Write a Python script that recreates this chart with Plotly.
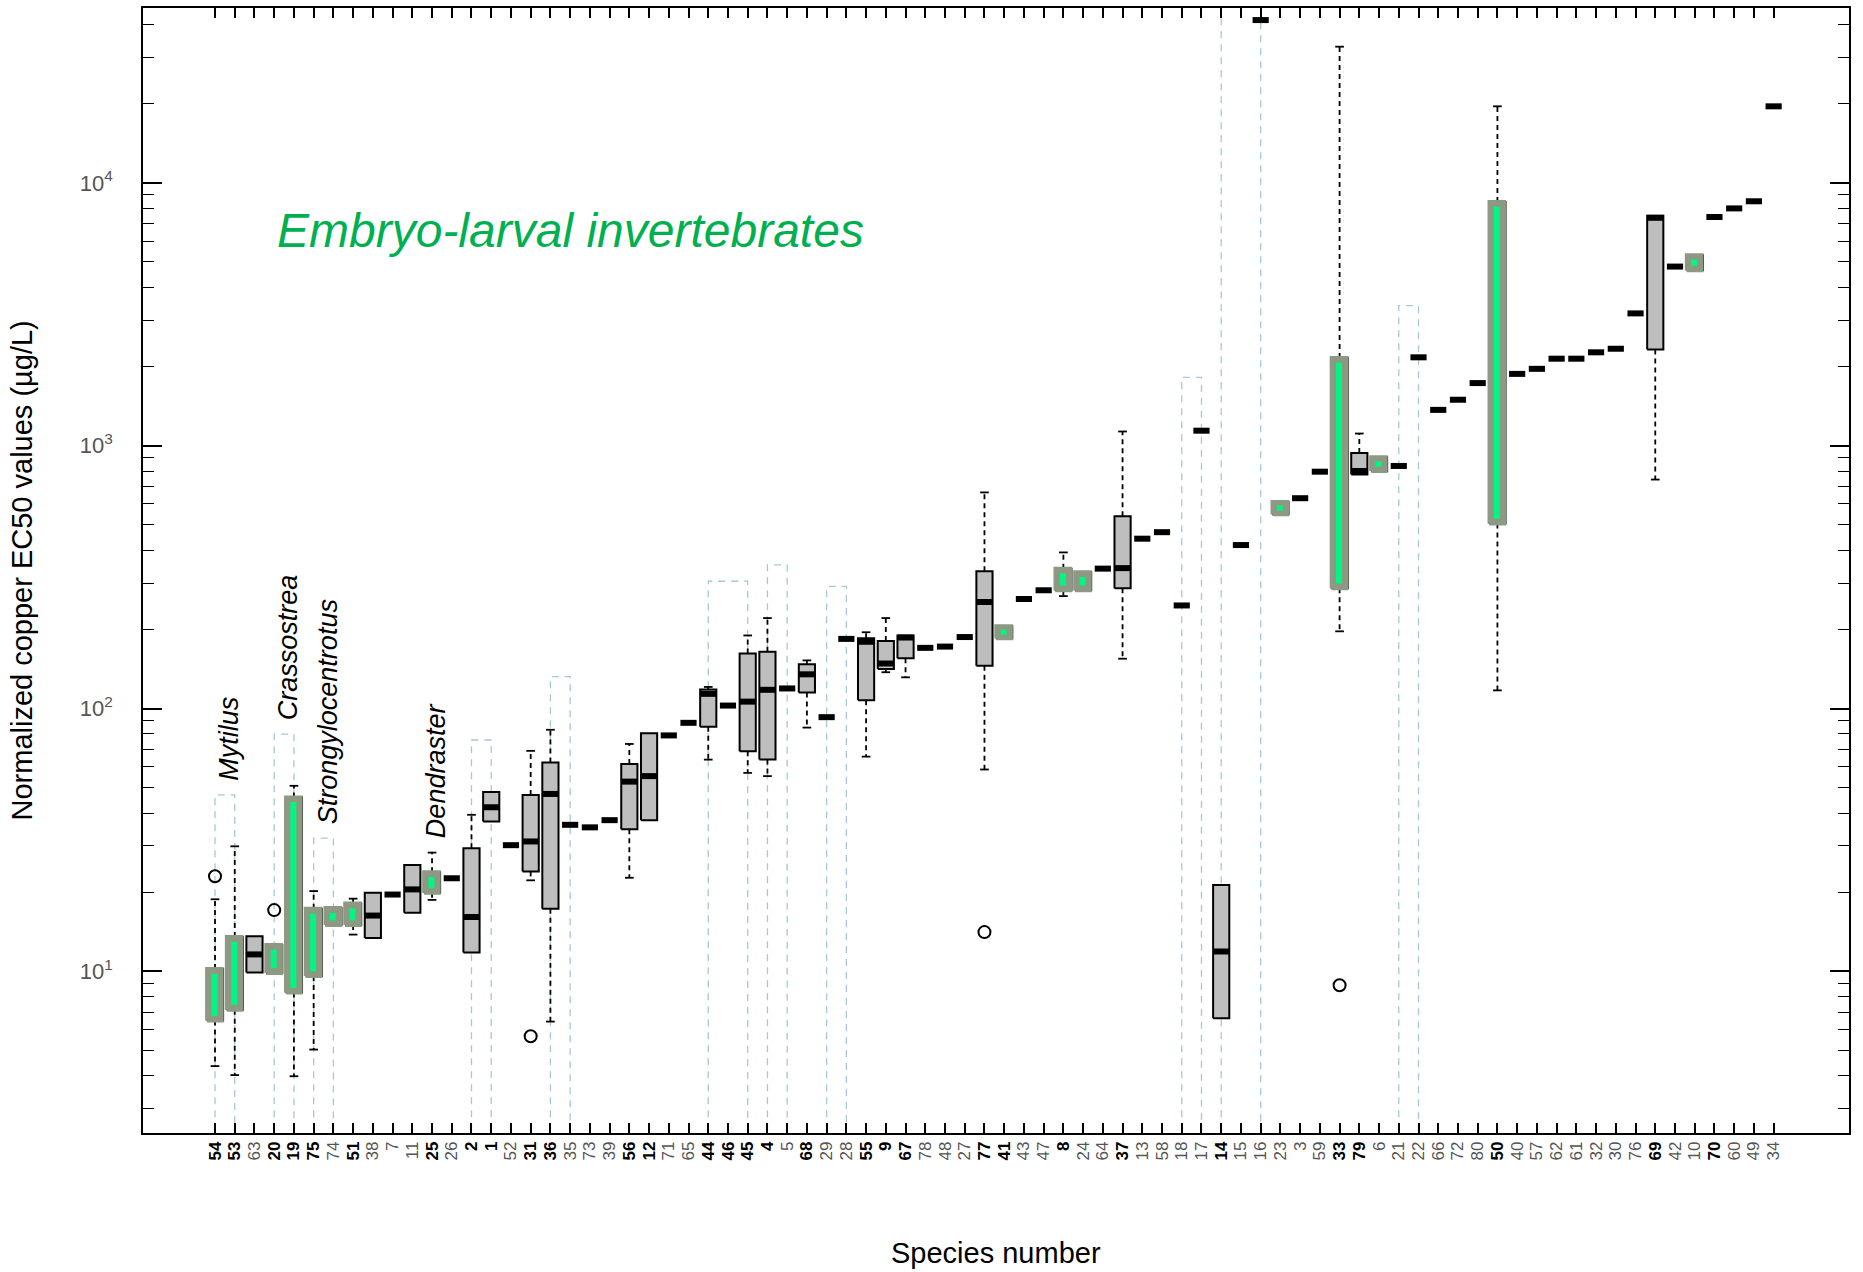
import math
import plotly.graph_objects as go

# Species in plotting order (left to right)
species = ["54", "53", "63", "20", "19", "75", "74", "51", "38", "7",
           "11", "25", "26", "2", "1", "52", "31", "36", "35", "73",
           "39", "56", "12", "71", "65", "44", "46", "45", "4", "5",
           "68", "29", "28", "55", "9", "67", "78", "48", "27", "77",
           "41", "43", "47", "8", "24", "64", "37", "13", "58", "18",
           "17", "14", "15", "16", "23", "3", "59", "33", "79", "6",
           "21", "22", "66", "72", "80", "50", "40", "57", "62", "61",
           "32", "30", "76", "69", "42", "10", "70", "60", "49", "34"]

# Species numbers printed in bold on the axis
bold_species = ["54", "53", "20", "19", "75", "51", "25", "2", "1", "31", "36",
                "56", "12", "44", "46", "45", "4", "68", "55", "9", "67", "77",
                "41", "8", "37", "14", "33", "79", "50", "69", "70"]

# Median normalized EC50 (ug/L) per species (single value where only one test)
median = [8.3, 10.0, 11.6, 11.0, 20.0, 13.0, 16.6, 16.4, 16.3, 19.6,
          20.5, 21.8, 22.6, 16.1, 42.1, 30.2, 31.2, 47.3, 36.1, 35.3,
          37.6, 52.7, 55.3, 79.0, 88.2, 113.7, 102.6, 106.2, 117.8, 119.2,
          134.9, 92.7, 184.0, 179.4, 148.3, 186.2, 170.1, 172.0, 187.0, 254.2,
          195.0, 261.0, 281.7, 309.6, 305.0, 340.5, 342.0, 442.6, 468.6, 246.6,
          1140.0, 11.9, 418.6, 41600.0, 577.5, 631.0, 796.0, 780.0, 801.0, 847.0,
          837.0, 2168.0, 1368.0, 1495.0, 1730.0, 1900.0, 1875.0, 1960.0, 2142.0, 2142.0,
          2265.0, 2337.0, 3185.0, 7360.0, 4800.0, 4955.0, 7410.0, 7990.0, 8505.0, 19540.0]

# Lower / upper quartiles for species with several values
q1 = {"54": 6.5, "53": 7.15, "63": 9.9, "20": 9.86, "19": 8.3, "75": 9.6,
      "74": 15.0, "51": 15.0, "38": 13.4, "11": 16.7, "25": 19.9, "2": 11.8,
      "1": 37.2, "31": 24.0, "36": 17.3, "56": 34.7, "12": 37.6, "44": 85.3,
      "45": 68.7, "4": 63.9, "68": 115.1, "55": 107.4, "9": 141.2, "67": 155.2,
      "77": 145.5, "41": 184.9, "8": 281.7, "24": 281.7, "37": 287.0,
      "14": 6.63, "23": 548.0, "33": 287.0, "79": 776.0, "6": 801.0,
      "50": 506.0, "69": 2323.0, "10": 4646.0}
q3 = {"54": 10.2, "53": 13.5, "63": 13.6, "20": 12.6, "19": 45.9, "75": 17.3,
      "74": 17.4, "51": 18.1, "38": 19.9, "11": 25.4, "25": 23.8, "2": 29.4,
      "1": 48.1, "31": 46.9, "36": 62.3, "56": 61.5, "12": 80.5, "44": 118.2,
      "45": 161.8, "4": 164.4, "68": 147.3, "55": 184.9, "9": 180.8, "67": 189.6,
      "77": 332.7, "41": 205.6, "8": 340.5, "24": 329.8, "37": 538.9,
      "14": 21.3, "23": 611.0, "33": 2156.0, "79": 937.6, "6": 903.0,
      "50": 8450.0, "69": 7485.0, "10": 5305.0}

# Whisker ends
whisker_low = {"54": 4.36, "53": 4.03, "19": 3.99, "75": 5.04, "51": 13.8,
               "25": 18.7, "31": 22.2, "36": 6.44, "56": 22.7, "44": 63.9,
               "45": 56.9, "4": 55.3, "68": 84.6, "55": 65.6, "9": 137.4,
               "67": 131.4, "77": 58.6, "8": 267.7, "37": 154.7, "33": 196.6,
               "50": 117.2, "69": 743.0}
whisker_high = {"54": 18.8, "53": 29.9, "19": 50.8, "75": 20.2, "51": 18.9,
                "25": 28.3, "2": 39.4, "31": 69.0, "36": 83.0, "56": 73.3,
                "44": 120.8, "45": 189.6, "4": 220.8, "68": 152.4, "55": 195.0,
                "9": 220.8, "77": 663.8, "8": 392.5, "37": 1132.0, "33": 32950.0,
                "79": 1112.0, "50": 19540.0}

# Outlying values
outlier_species = ["54", "20", "31", "77", "33"]
outlier_values = [23.0, 17.1, 5.66, 14.1, 8.85]

# Species highlighted in green
highlighted = ["54", "53", "20", "19", "75", "74", "51", "25", "41", "8",
               "24", "23", "33", "6", "50", "10"]

# Dashed brackets grouping species of the same genus
bracket_from = ["54", "20", "75", "2", "36", "44", "4", "29", "18", "14", "21"]
bracket_to = ["53", "19", "74", "1", "35", "45", "5", "28", "17", "16", "22"]
bracket_top = [46.9, 79.9, 32.1, 75.9, 132.3, 304.8, 352.0, 291.3, 1820.0, 1.0e5, 3412.0]

# Genus names written above their species
genus_names = ["Mytilus", "Crassostrea", "Strongylocentrotus", "Dendraster"]
genus_bracket = [0, 1, 2, None]
genus_species = [None, None, None, "25"]

y_ticks = [10, 100, 1000, 10000]
y_ticktext = ["10<sup>1</sup>", "10<sup>2</sup>", "10<sup>3</sup>", "10<sup>4</sup>"]

pos = {s: i for i, s in enumerate(species)}

BOX_HW = 0.41
STAPLE_HW = 0.22
FONT = "Arial, 'Liberation Sans', Helvetica, sans-serif"

fig = go.Figure()

# genus brackets
bx, by = [], []
for a, b, top in zip(bracket_from, bracket_to, bracket_top):
    xa, xb = pos[a], pos[b]
    bx += [xa, xa, xb, xb, None]
    by += [1.0, top, top, 1.0, None]
fig.add_trace(go.Scatter(x=bx, y=by, mode="lines", hoverinfo="skip",
                         line=dict(color="#a6c9d8", width=1.3, dash="7px,6px")))

# whiskers and staples
wx, wy, sx, sy = [], [], [], []
for s, v in whisker_high.items():
    i = pos[s]
    wx += [i, i, None]
    wy += [q3[s], v, None]
    sx += [i - STAPLE_HW, i + STAPLE_HW, None]
    sy += [v, v, None]
for s, v in whisker_low.items():
    i = pos[s]
    wx += [i, i, None]
    wy += [q1[s], v, None]
    sx += [i - STAPLE_HW, i + STAPLE_HW, None]
    sy += [v, v, None]
fig.add_trace(go.Scatter(x=wx, y=wy, mode="lines", hoverinfo="skip",
                         line=dict(color="black", width=1.8, dash="5px,4px")))
fig.add_trace(go.Scatter(x=sx, y=sy, mode="lines", hoverinfo="skip",
                         line=dict(color="black", width=1.8)))

# boxes
px, py = [], []
for s in q1:
    i = pos[s]
    px += [i - BOX_HW, i + BOX_HW, i + BOX_HW, i - BOX_HW, i - BOX_HW, None]
    py += [q1[s], q1[s], q3[s], q3[s], q1[s], None]
fig.add_trace(go.Scatter(x=px, y=py, mode="lines", fill="toself",
                         fillcolor="#bebebe", hoverinfo="skip",
                         line=dict(color="black", width=2)))

# medians
mx, my = [], []
for i, m in enumerate(median):
    mx += [i - BOX_HW, i + BOX_HW, None]
    my += [m, m, None]
fig.add_trace(go.Scatter(x=mx, y=my, mode="lines", hoverinfo="skip",
                         line=dict(color="black", width=6)))

# green highlight of selected species
hx, hy, gx, gy = [], [], [], []
for s in highlighted:
    i = pos[s]
    lo, hi = q1[s], q3[s]
    hx += [i - 0.40, i + 0.34, i + 0.34, i - 0.40, i - 0.40, None]
    hy += [lo, lo, hi, hi, lo, None]
    span = math.log10(hi) - math.log10(lo)
    inset = min(0.018, 0.3 * span)
    gx += [i - 0.03, i - 0.03, None]
    gy += [10 ** (math.log10(lo) + inset), 10 ** (math.log10(hi) - inset), None]
fig.add_trace(go.Scatter(x=hx, y=hy, mode="lines", fill="toself",
                         fillcolor="#8d9982", hoverinfo="skip",
                         line=dict(color="#8d9982", width=4)))
fig.add_trace(go.Scatter(x=gx, y=gy, mode="lines", hoverinfo="skip",
                         line=dict(color="#00f582", width=6)))

# outliers
fig.add_trace(go.Scatter(x=[pos[s] for s in outlier_species], y=outlier_values,
                         mode="markers", hoverinfo="skip",
                         marker=dict(symbol="circle-open", size=12,
                                     color="black", line=dict(width=2))))

# genus labels
annotations = []
for name, bi, sp in zip(genus_names, genus_bracket, genus_species):
    if bi is not None:
        xc = (pos[bracket_from[bi]] + pos[bracket_to[bi]]) / 2
        yv = bracket_top[bi]
    else:
        xc = pos[sp]
        yv = whisker_high[sp]
    annotations.append(dict(x=xc, y=math.log10(yv), xref="x", yref="y",
                            text="<i>%s</i>" % name, showarrow=False,
                            textangle=-90, xanchor="center", yanchor="bottom",
                            xshift=4, yshift=12,
                            font=dict(family=FONT, size=27, color="black")))

annotations.append(dict(x=0.0774, y=0.802, xref="paper", yref="paper",
                        text="<i>Embryo-larval invertebrates</i>", showarrow=False,
                        xanchor="left", yanchor="middle",
                        font=dict(family=FONT, size=48, color="#00b050")))
annotations.append(dict(x=0.5, y=0, xref="paper", yref="paper",
                        text="Species number", showarrow=False,
                        xanchor="center", yanchor="middle", yshift=-120,
                        font=dict(family=FONT, size=29, color="black")))
annotations.append(dict(x=0, y=0.5, xref="paper", yref="paper",
                        text="Normalized copper EC50 values (µg/L)", showarrow=False,
                        textangle=-90, xanchor="center", yanchor="middle", xshift=-122,
                        font=dict(family=FONT, size=29, color="black")))

ticktext = ["<b>%s</b>" % s if s in bold_species else
            '<span style="color:#555555">%s</span>' % s for s in species]

minor_vals = [m * 10 ** k for k in range(0, 5) for m in range(2, 10)]

fig.update_layout(
    width=1863, height=1272,
    margin=dict(l=143, r=14, t=6, b=139),
    plot_bgcolor="white", paper_bgcolor="white",
    showlegend=False,
    font=dict(family=FONT, color="black"),
    annotations=annotations,
    xaxis=dict(range=[-3.65, 82.82], tickmode="array",
               tickvals=list(range(len(species))), ticktext=ticktext,
               tickangle=-90, ticks="inside", ticklen=10, tickwidth=1.5,
               tickcolor="black", showline=True, linecolor="black", linewidth=1.5,
               mirror="ticks", showgrid=False, zeroline=False,
               tickfont=dict(family=FONT, size=17, color="black")),
    yaxis=dict(type="log", range=[0.385, 4.665], tickmode="array",
               tickvals=y_ticks, ticktext=y_ticktext,
               ticks="inside", ticklen=19, tickwidth=1.5, tickcolor="black",
               showline=True, linecolor="black", linewidth=1.5, mirror="ticks",
               showgrid=False, zeroline=False, ticklabelstandoff=24,
               tickfont=dict(family=FONT, size=22, color="#555555"),
               minor=dict(tickmode="array", tickvals=minor_vals, ticks="inside",
                          ticklen=11, tickwidth=1.3, tickcolor="black",
                          showgrid=False)),
)

fig.write_html("out.html")
